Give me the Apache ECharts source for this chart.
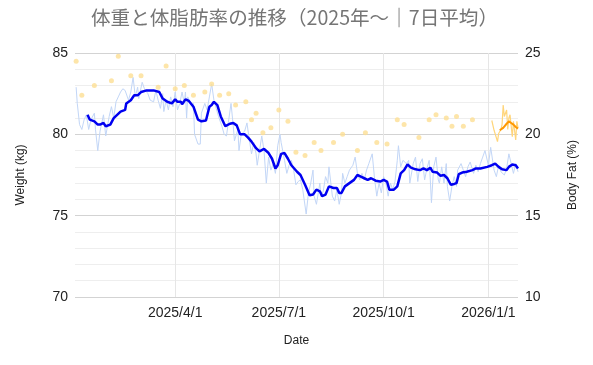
<!DOCTYPE html>
<html>
<head>
<meta charset="utf-8">
<script src="https://cdn.jsdelivr.net/npm/echarts@6/dist/echarts.min.js"></script>
<style>html,body{margin:0;padding:0;background:#fff}#c{width:593px;height:365px}</style>
</head>
<body>
<div id="c"></div>
<script>
// Day offsets are counted from 2025-01-01 (day 0)
const xTickDates = ['2025-04-01', '2025-07-01', '2025-10-01', '2026-01-01'];

const weightDailyDays = [3,4,6,8,10,12,14,16,19,20,22,24,27,29,32,34,36,38,40,42,44,46,49,51,53,55,57,58,61,63,66,68,71,73,75,77,79,80,82,84,86,88,90,92,94,96,98,99,100,101,104,106,107,110,112,113,116,118,120,122,124,126,128,131,133,135,137,139,141,142,145,146,148,151,153,155,157,159,161,162,164,166,168,170,172,174,176,178,180,182,183,186,188,190,192,194,196,198,200,202,205,207,209,211,212,214,217,218,220,222,224,225,228,230,232,234,236,237,239,241,243,246,248,250,252,254,256,258,260,263,265,267,269,271,273,275,277,279,281,283,285,286,288,290,293,295,296,299,301,303,305,307,309,311,313,314,315,317,319,321,322,324,326,328,329,331,333,335,337,338,341,343,345,347,349,352,354,356,358,360,362,365,367,368,370,372,374,376,379,381,383,385,387,389,391];
const weightDaily = [82.9,81.9,80.6,80.3,80.9,81.2,80.3,80.9,81.3,80.3,79.0,80.2,81.2,79.9,81.1,81.7,81.0,82.0,82.3,82.6,82.8,82.7,82.1,82.6,83.5,82.3,82.9,82.2,83.2,82.8,82.5,82.1,82.0,82.7,82.1,81.6,82.5,81.4,82.1,81.5,82.3,81.7,82.6,81.5,81.9,82.6,81.9,82.6,81.0,82.3,81.8,81.9,80.0,79.4,79.4,81.3,81.9,81.5,82.3,83.1,82.1,81.6,81.1,80.5,80.0,79.9,80.9,81.9,80.5,79.6,80.3,79.0,80.0,80.2,80.7,79.7,78.8,79.5,78.8,78.1,79.0,79.9,79.0,77.0,78.6,77.8,78.2,77.6,79.3,80.0,79.5,78.4,77.6,78.1,78.4,77.8,76.9,77.1,77.2,76.6,75.1,76.4,77.0,77.8,76.2,75.7,77.0,76.2,76.5,77.4,77.0,78.0,76.2,75.9,76.6,75.7,76.4,77.6,77.0,77.4,77.8,78.1,78.6,77.6,77.2,77.6,77.2,77.8,78.2,78.8,77.3,76.2,77.0,76.4,77.4,77.0,76.2,77.0,76.6,77.1,78.4,79.3,78.0,78.4,78.2,78.4,77.0,78.2,78.6,77.1,78.2,78.5,77.2,77.9,78.4,77.2,75.8,78.0,78.6,77.2,77.0,78.0,77.0,78.2,76.8,75.9,76.8,77.4,76.8,77.8,78.2,77.8,77.4,78.0,78.3,77.6,78.1,77.7,78.2,78.6,79.0,78.1,79.2,79.3,77.8,77.4,78.1,77.7,77.5,77.9,78.8,78.2,77.6,78.2,77.7];

const weightAvgDays = [13,15,19,22,24,27,29,33,36,39,42,46,47,51,54,57,60,61,65,71,76,79,83,87,90,92,95,96,99,102,106,110,113,117,120,122,124,127,130,134,138,141,144,147,151,154,157,161,164,168,172,175,178,180,183,186,189,192,197,200,204,208,211,214,217,219,222,225,229,232,234,236,239,243,247,250,253,256,259,262,266,270,273,276,278,282,285,288,291,294,297,301,305,308,311,314,316,320,323,326,329,332,335,337,339,342,346,351,354,358,364,368,371,374,377,381,383,386,389,391];
const weightAvg = [81.2,80.9,80.8,80.6,80.6,80.7,80.5,80.6,81.0,81.2,81.4,81.5,81.9,82.1,82.4,82.4,82.6,82.7,82.7,82.7,82.6,82.2,82.0,81.9,82.15,82.0,82.0,81.85,82.15,82.05,81.7,80.9,80.8,80.85,81.7,81.8,82.0,81.8,81.1,80.5,80.65,80.7,80.55,80.0,80.0,79.8,79.55,79.15,78.95,79.1,78.85,78.5,77.9,78.1,78.8,78.85,78.5,78.1,77.7,77.5,76.9,76.25,76.3,76.6,76.5,76.2,76.3,76.8,76.7,76.7,76.4,76.4,76.8,77.0,77.2,77.5,77.4,77.3,77.2,77.3,77.15,77.1,77.2,77.1,76.6,76.6,76.8,77.6,77.8,78.15,77.95,77.85,77.8,77.9,77.8,77.95,77.7,77.65,77.45,77.5,77.3,76.9,76.95,77.0,77.55,77.65,77.7,77.8,77.9,77.9,78.0,78.1,78.2,78.0,77.85,77.8,78.0,78.15,78.1,77.9];

const fatPointDays = [3,8,19,34,40,51,60,75,82,90,98,106,116,122,129,137,143,152,157,161,167,174,181,189,196,204,212,218,229,237,250,257,267,276,285,291,304,313,319,328,333,337,343,351];
const fatPoints = [24.5,22.4,23.0,23.3,24.8,23.6,23.6,22.9,24.2,22.8,23.0,22.4,22.6,23.1,22.4,22.5,21.8,22.0,20.9,21.3,20.1,20.4,21.5,20.8,18.9,18.7,19.5,19.0,19.5,20.0,19.0,20.1,19.5,19.4,20.9,20.6,19.8,20.9,21.2,21.0,20.5,21.1,20.5,20.9];

const fatDailyDays = [368,370,373,374,376,377,378,379,381,382,383,384,386,387,389,390,391];
const fatDaily = [20.85,20.25,19.55,20.05,20.3,20.6,21.8,21.1,21.5,20.3,21.0,21.2,19.85,20.8,19.65,20.8,20.4];

const fatAvgDays = [375,378,381,383,385,387,389,391];
const fatAvg = [20.25,20.4,20.65,20.8,20.7,20.6,20.45,20.35];

const BASE = Date.UTC(2025, 0, 1);
const DAY = 86400000;
function dateToDay(s) { const p = s.split('-').map(Number); return Math.round((Date.UTC(p[0], p[1] - 1, p[2]) - BASE) / DAY); }
function dayLabel(n) { const d = new Date(BASE + Math.round(n) * DAY); return d.getUTCFullYear() + '/' + (d.getUTCMonth() + 1) + '/' + d.getUTCDate(); }
function pairs(days, vals) { return days.map((d, i) => [d, vals[i]]); }
const xTicks = xTickDates.map(dateToDay);

const chart = echarts.init(document.getElementById('c'), null, { renderer: 'canvas' });
const font = 'Liberation Sans, Arial, sans-serif';
chart.setOption({
  animation: false,
  backgroundColor: '#ffffff',
  title: {
    text: '体重と体脂肪率の推移（2025年～｜7日平均）',
    left: 86, top: 3,
    textStyle: { fontSize: 19.6, fontWeight: 'normal', color: '#757575', fontFamily: '"Noto Sans CJK JP", sans-serif' }
  },
  grid: { left: 75, right: 75, top: 53, bottom: 68, containLabel: false },
  xAxis: {
    type: 'value',
    min: 2, max: 391,
    name: 'Date', nameLocation: 'middle', nameGap: 38,
    nameTextStyle: { fontSize: 12, color: '#222', fontFamily: font },
    axisLine: { show: false },
    axisTick: { show: false, customValues: xTicks },
    axisLabel: {
      customValues: xTicks, margin: 9, fontSize: 14, color: '#222', fontFamily: font,
      formatter: function (v) { return dayLabel(v); }
    },
    splitLine: { show: true, lineStyle: { color: '#e6e6e6', width: 1 } }
  },
  yAxis: [
    {
      type: 'value', min: 70, max: 85, interval: 5,
      name: 'Weight (kg)', nameLocation: 'middle', nameGap: 48, nameRotate: 90,
      nameTextStyle: { fontSize: 12, color: '#222', fontFamily: font },
      axisLine: { show: false }, axisTick: { show: false },
      axisLabel: { margin: 7, fontSize: 14, color: '#222', fontFamily: font },
      splitLine: { show: true, lineStyle: { color: '#d3d3d3' } },
      minorTick: { show: false, splitNumber: 5 },
      minorSplitLine: { show: true, lineStyle: { color: '#eeeeee' } }
    },
    {
      type: 'value', min: 10, max: 25, interval: 5,
      name: 'Body Fat (%)', nameLocation: 'middle', nameGap: 49, nameRotate: 90,
      nameTextStyle: { fontSize: 12, color: '#222', fontFamily: font },
      axisLine: { show: false }, axisTick: { show: false },
      axisLabel: { margin: 7, fontSize: 14, color: '#222', fontFamily: font },
      splitLine: { show: false }
    }
  ],
  series: [
    {
      name: 'weight daily', type: 'line', yAxisIndex: 0, showSymbol: false, symbol: 'none',
      lineStyle: { color: '#c2d6f7', width: 1 }, data: pairs(weightDailyDays, weightDaily), z: 2
    },
    {
      name: 'fat points', type: 'scatter', yAxisIndex: 1, symbolSize: 5,
      itemStyle: { color: '#fddf94' }, data: pairs(fatPointDays, fatPoints), z: 3
    },
    {
      name: 'weight avg', type: 'line', yAxisIndex: 0, showSymbol: false, symbol: 'none',
      lineStyle: { color: '#0000f0', width: 2.5 }, data: pairs(weightAvgDays, weightAvg), z: 4
    },
    {
      name: 'fat daily', type: 'line', yAxisIndex: 1, showSymbol: false, symbol: 'none',
      lineStyle: { color: '#ffd57a', width: 1.2 }, data: pairs(fatDailyDays, fatDaily), z: 5
    },
    {
      name: 'fat avg', type: 'line', yAxisIndex: 1, showSymbol: false, symbol: 'none',
      lineStyle: { color: '#ff9800', width: 2 }, data: pairs(fatAvgDays, fatAvg), z: 6
    }
  ]
});
</script>
</body>
</html>
